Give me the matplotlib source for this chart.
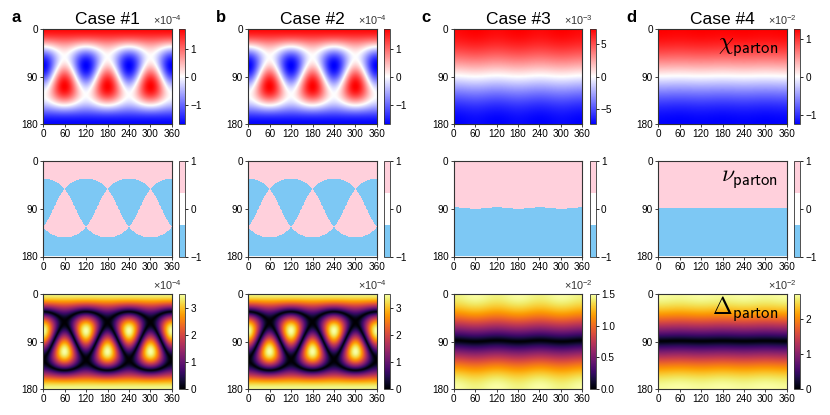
import numpy as np
import matplotlib
matplotlib.use('Agg')
import matplotlib.pyplot as plt
from matplotlib.colors import ListedColormap, Normalize

# ---------------- data / model parameters ----------------
case_titles = ['Case #1', 'Case #2', 'Case #3', 'Case #4']
panel_letters = ['a', 'b', 'c', 'd']
x_ticks = [0, 60, 120, 180, 240, 300, 360]
y_ticks = [0, 90, 180]

# cases 1,2: chi ~ product of three planes n.b_k (zero lines = three great circles)
axis_polar_deg = [55.0, 55.0, None, None]
axis_azimuth_deg = [[60.0, 180.0, 300.0], [60.0, 180.0, 300.0], None, None]
# cases 3,4: chi ~ cos(theta) with a tiny three-fold ripple of the nodal line
ripple_amp = [0.0, 0.0, 0.0175, 0.006]
ripple_phase_deg = [0.0, 0.0, 0.0, 60.0]

chi_max = [1.70e-4, 1.70e-4, 7.25e-3, 1.25e-2]
delta_max = [3.52e-4, 3.52e-4, 1.49e-2, 2.73e-2]
chi_exp = [-4, -4, -3, -2]
delta_exp = [-4, -4, -2, -2]
chi_ticks = [[-1, 0, 1], [-1, 0, 1], [-5, 0, 5], [-1, 0, 1]]
chi_tick_labels = [['\u22121', '0', '1'], ['\u22121', '0', '1'],
                   ['\u22125', '0', '5'], ['\u22121', '0', '1']]
delta_ticks = [[0, 1, 2, 3], [0, 1, 2, 3], [0.0, 0.5, 1.0, 1.5], [0, 1, 2]]
delta_tick_labels = [['0', '1', '2', '3'], ['0', '1', '2', '3'],
                     ['0.0', '0.5', '1.0', '1.5'], ['0', '1', '2']]
nu_ticks = [-1, 0, 1]
nu_tick_labels = ['\u22121', '0', '1']
row_labels = [r'$\chi_{\mathsf{parton}}$', r'$\nu_{\mathsf{parton}}$', r'$\Delta_{\mathsf{parton}}$']

nu_colors = ['#7DC8F4', '#FFFFFF', '#FFD0DC']

# ---------------- style ----------------
plt.rcParams['font.family'] = ['Liberation Sans', 'DejaVu Sans']
plt.rcParams['mathtext.fontset'] = 'custom'
plt.rcParams['mathtext.rm'] = 'Liberation Sans'
plt.rcParams['mathtext.it'] = 'Liberation Sans:italic'
plt.rcParams['mathtext.bf'] = 'Liberation Sans:bold'
plt.rcParams['axes.unicode_minus'] = True
plt.rcParams['axes.edgecolor'] = '#333333'
plt.rcParams['axes.linewidth'] = 0.8

W, H = 830, 415
fig = plt.figure(figsize=(W / 100, H / 100), dpi=100)

col_left = [43.3, 248.3, 453.8, 658.3]
row_top = [29.0, 161.3, 294.0]
ax_w, ax_h = 128.4, 95.2
cb_off, cb_w = 136.0, 6.0


def rect(left, top, w, h):
    return [left / W, 1 - (top + h) / H, w / W, h / H]


# grid (pixel centres)
nth, nph = 360, 720
theta = np.deg2rad((np.arange(nth) + 0.5) * 180.0 / nth)
phi = np.deg2rad((np.arange(nph) + 0.5) * 360.0 / nph)
PH, TH = np.meshgrid(phi, theta)
nx, ny, nz = np.sin(TH) * np.cos(PH), np.sin(TH) * np.sin(PH), np.cos(TH)


def field(i):
    if axis_polar_deg[i] is not None:
        a = np.deg2rad(axis_polar_deg[i])
        f = np.ones_like(TH)
        for az in axis_azimuth_deg[i]:
            b = np.deg2rad(az)
            f = f * (nx * np.sin(a) * np.cos(b) + ny * np.sin(a) * np.sin(b) + nz * np.cos(a))
    else:
        f = np.cos(TH) - ripple_amp[i] * np.cos(3 * (PH - np.deg2rad(ripple_phase_deg[i])))
    return f / np.abs(f).max()


def style_ax(ax):
    ax.set_xticks(x_ticks)
    ax.set_yticks(y_ticks)
    ax.tick_params(labelsize=7.2, length=2.2, width=0.6, pad=1.5, colors='#222222')
    for lab in ax.get_xticklabels() + ax.get_yticklabels():
        lab.set_color('black')


def style_cb(cb, ticks, labels):
    cb.set_ticks(ticks, labels=labels)
    cb.ax.tick_params(labelsize=7.2, length=2.2, width=0.6, pad=1.5)
    cb.outline.set_linewidth(0.6)
    cb.outline.set_edgecolor('#333333')


nu_cmap = ListedColormap(nu_colors)
extent = (0, 360, 180, 0)

for i in range(4):
    f = field(i)
    chi = chi_max[i] * f
    nu = np.sign(chi)
    delta = delta_max[i] * np.abs(f)

    arrays = [chi, nu, delta]
    cmaps = ['bwr', nu_cmap, 'inferno']
    norms = [Normalize(chi.min(), chi.max()), Normalize(-1, 1), Normalize(delta.min(), delta.max())]
    for r in range(3):
        ax = fig.add_axes(rect(col_left[i], row_top[r], ax_w, ax_h))
        im = ax.imshow(arrays[r], cmap=cmaps[r], norm=norms[r], extent=extent,
                       aspect='auto', interpolation='nearest' if r == 1 else 'bilinear')
        ax.set_xlim(0, 360)
        ax.set_ylim(180, 0)
        style_ax(ax)
        cax = fig.add_axes(rect(col_left[i] + cb_off, row_top[r], cb_w, ax_h))
        cb = fig.colorbar(im, cax=cax)
        if r == 0:
            e = chi_exp[i]
            style_cb(cb, [t * 10.0 ** e for t in chi_ticks[i]], chi_tick_labels[i])
        elif r == 1:
            e = None
            style_cb(cb, nu_ticks, nu_tick_labels)
        else:
            e = delta_exp[i]
            style_cb(cb, [t * 10.0 ** e for t in delta_ticks[i]], delta_tick_labels[i])
        if e is not None:
            fig.text((col_left[i] + cb_off + cb_w - 3) / W, 1 - (row_top[r] - 4) / H,
                     r'$\times10^{%d}$' % e, ha='right', va='baseline', fontsize=7.8,
                     color='#333333')
        if r == 0:
            ax.set_title(case_titles[i], fontsize=12.5, pad=3.4)
        if i == 3:
            ax.text(0.93, 0.79, row_labels[r], transform=ax.transAxes, ha='right',
                    va='baseline', fontsize=17, math_fontfamily='cm')
    fig.text((col_left[i] - 32) / W, 1 - 22 / H, panel_letters[i], fontsize=12,
             fontweight='bold', ha='left', va='baseline')

fig.savefig('out.png', dpi=100)
